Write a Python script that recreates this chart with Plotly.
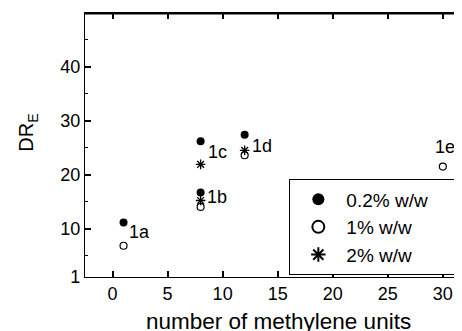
import plotly.graph_objects as go

# Data
x_02 = [1, 8, 8, 12]
y_02 = [11.1, 16.7, 26.2, 27.4]
x_1 = [1, 8, 12, 30]
y_1 = [6.8, 14.0, 23.6, 21.5]
x_2 = [8, 8, 12]
y_2 = [15.2, 21.9, 24.5]
series_names = ["0.2% w/w", "1% w/w", "2% w/w"]
compound_labels = ["1a", "1b", "1c", "1d", "1e"]
x_ticks = [0, 5, 10, 15, 20, 25, 30]
y_ticks = [1, 10, 20, 30, 40]
y_minor = [5, 15, 25, 35, 45]
x_title = "number of methylene units"
y_title = "DR<sub>E</sub>"

font = "Liberation Sans, Arial, Helvetica, sans-serif"
pad = "\u00a0" * 5
x_range = [-2.5, 31.74]

fig = go.Figure()
fig.add_trace(go.Scatter(x=x_02, y=y_02, mode="markers", name=series_names[0] + pad,
                         marker=dict(symbol="circle", size=8, color="black")))
fig.add_trace(go.Scatter(x=x_1, y=y_1, mode="markers", name=series_names[1] + pad,
                         marker=dict(symbol="circle-open", size=7, color="black",
                                     line=dict(width=1.2, color="black"))))
fig.add_trace(go.Scatter(x=x_2, y=y_2, mode="markers", name=series_names[2] + pad,
                         marker=dict(symbol="asterisk-open", size=8, color="black",
                                     line=dict(width=1.3, color="black"))))
# invisible trace to activate the top (frame) axis
fig.add_trace(go.Scatter(x=x_02, y=y_02, mode="markers", xaxis="x2", showlegend=False,
                         hoverinfo="skip", marker=dict(opacity=0)))

# labels anchored to data points with small pixel offsets
label_anchor = [(x_02[0], y_02[0], 3, -9, "left"),
                (x_02[1], y_02[1], 4, -5, "left"),
                (x_02[2], y_02[2], 5, -11, "left"),
                (x_02[3], y_02[3], 5, -11, "left"),
                (x_1[3], y_1[3], 2, 20, "center")]
for lab, (ax, ay, dx, dy, anc) in zip(compound_labels, label_anchor):
    fig.add_annotation(x=ax, y=ay, text=lab, showarrow=False, xanchor=anc,
                       yanchor="middle", xshift=dx, yshift=dy,
                       font=dict(size=18, color="black", family=font))

# axis titles
fig.add_annotation(xref="paper", yref="paper", x=0.512, y=0, yanchor="middle",
                   yshift=-44, text=x_title, showarrow=False,
                   font=dict(size=22.5, color="black", family=font))
fig.add_annotation(xref="paper", yref="paper", x=-0.151, y=0.547, xanchor="center",
                   yanchor="middle", textangle=-90, text=y_title, showarrow=False,
                   font=dict(size=20, color="black", family=font))

# frame line along the top of the plot area (slightly inside so it is not clipped)
fig.add_shape(type="line", xref="paper", yref="paper", x0=0, x1=1, y0=0.997, y1=0.997,
              line=dict(color="black", width=1.5), layer="above")

axis_common = dict(range=x_range, tickvals=x_ticks, ticks="inside", ticklen=6,
                   tickwidth=1.5, tickcolor="black", showline=True, linecolor="black",
                   linewidth=1.2, showgrid=False, zeroline=False, automargin=False)

fig.update_layout(
    width=454, height=323,
    margin=dict(l=77, r=0, t=5, b=54, autoexpand=False),
    paper_bgcolor="white", plot_bgcolor="white",
    font=dict(family=font, color="black", size=18),
    showlegend=True,
    legend=dict(x=0.542, y=0.37, xanchor="left", yanchor="top",
                bgcolor="white", bordercolor="black", borderwidth=1,
                font=dict(size=19, family=font), tracegroupgap=0,
                itemsizing="constant", itemwidth=46),
    xaxis=dict(**axis_common, tickfont=dict(size=18)),
    xaxis2=dict(**axis_common, overlaying="x", side="top", anchor="y",
                showticklabels=False),
    yaxis=dict(range=[1, 50], tickvals=y_ticks, ticks="inside", ticklen=6,
               tickwidth=1.5, tickcolor="black", showline=True, linecolor="black",
               linewidth=1.2, mirror=False, showgrid=False, zeroline=False,
               automargin=False, tickfont=dict(size=18),
               minor=dict(tickvals=y_minor, ticks="inside", ticklen=3,
                          tickwidth=1, tickcolor="black")),
)

fig.write_html("out.html")
